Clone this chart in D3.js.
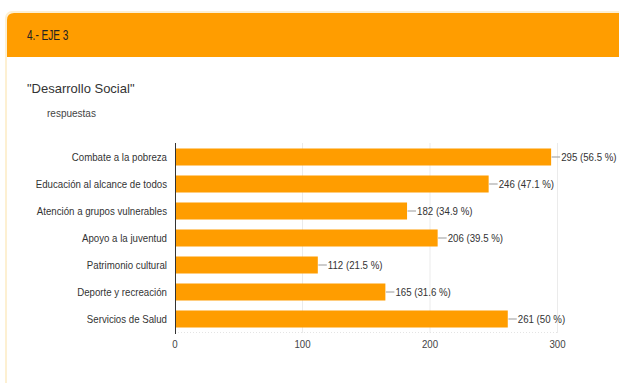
<!DOCTYPE html>
<html>
<head>
<meta charset="utf-8">
<script src="https://cdn.jsdelivr.net/npm/d3@7"></script>
<style>
  body { margin: 0; background: #fff; }
  svg { display: block; font-family: "Liberation Sans", Arial, sans-serif; }
</style>
</head>
<body>
<svg id="chart" width="619" height="383"></svg>
<script>
var categories = ["Combate a la pobreza", "Educación al alcance de todos", "Atención a grupos vulnerables",
  "Apoyo a la juventud", "Patrimonio cultural", "Deporte y recreación", "Servicios de Salud"];
var counts = [295, 246, 182, 206, 112, 165, 261];
var percents = ["56.5", "47.1", "34.9", "39.5", "21.5", "31.6", "50"];
var tickValues = [0, 100, 200, 300];

var squeeze = 0.88;

var svg = d3.select("#chart");

// card
svg.append("rect")
  .attr("x", 6).attr("y", 12).attr("width", 620).attr("height", 380)
  .attr("rx", 6)
  .attr("fill", "#fff").attr("stroke", "#fdf0d2").attr("stroke-width", 2);

svg.append("path")
  .attr("d", "M7,57 L7,20 Q7,13 14,13 L619,13 L619,57 Z")
  .attr("fill", "#ff9d00");

svg.append("text")
  .attr("transform", "translate(27,40) scale(0.72,1)")
  .attr("font-size", 14).attr("fill", "#222")
  .text("4.- EJE 3");

svg.append("text")
  .attr("x", 27).attr("y", 93)
  .attr("font-size", 13).attr("fill", "#333")
  .text("\"Desarrollo Social\"");

svg.append("text")
  .attr("x", 47).attr("y", 117)
  .attr("font-size", 10).attr("fill", "#444")
  .text("respuestas");

var x = d3.scaleLinear()
  .domain([0, 300])
  .range([175, 557.5]);

var y = d3.scaleBand()
  .domain(categories)
  .range([143.5, 332.5])
  .paddingInner(0.37)
  .paddingOuter(0.185);

function mid(i) { return y(categories[i]) + y.bandwidth() / 2; }

// grid
svg.selectAll(".grid")
  .data(tickValues.slice(1))
  .enter()
  .append("line")
  .attr("x1", function (d) { return x(d); })
  .attr("x2", function (d) { return x(d); })
  .attr("y1", 143).attr("y2", 333)
  .attr("stroke", "#ebebeb").attr("stroke-width", 1);

svg.append("line")
  .attr("x1", x(0)).attr("x2", x(300))
  .attr("y1", 332.5).attr("y2", 332.5)
  .attr("stroke", "#e4e4e4").attr("stroke-dasharray", "1,2");

// bars
svg.selectAll(".bar")
  .data(counts)
  .enter()
  .append("rect")
  .attr("x", x(0))
  .attr("y", function (d, i) { return y(categories[i]); })
  .attr("width", function (d) { return x(d) - x(0); })
  .attr("height", y.bandwidth())
  .attr("fill", "#ff9d00");

// axis line
svg.append("line")
  .attr("x1", 175.5).attr("x2", 175.5)
  .attr("y1", 143).attr("y2", 334)
  .attr("stroke", "#333").attr("stroke-width", 1);

// category labels
svg.selectAll(".cat")
  .data(categories)
  .enter()
  .append("text")
  .attr("transform", function (d, i) { return "translate(167," + mid(i) + ") scale(" + squeeze + ",1)"; })
  .attr("dy", "0.35em")
  .attr("text-anchor", "end")
  .attr("font-size", 11).attr("fill", "#333")
  .text(function (d) { return d; });

// value labels with leader lines
svg.selectAll(".leader")
  .data(counts)
  .enter()
  .append("line")
  .attr("x1", function (d) { return x(d) + 0.5; })
  .attr("x2", function (d) { return x(d) + 9; })
  .attr("y1", function (d, i) { return mid(i); })
  .attr("y2", function (d, i) { return mid(i); })
  .attr("stroke", "#aaa").attr("stroke-width", 1.2);

svg.selectAll(".val")
  .data(counts)
  .enter()
  .append("text")
  .attr("transform", function (d, i) { return "translate(" + (x(d) + 10) + "," + mid(i) + ") scale(" + squeeze + ",1)"; })
  .attr("dy", "0.35em")
  .attr("font-size", 11).attr("fill", "#333")
  .text(function (d, i) { return d + " (" + percents[i] + " %)"; });

// x tick labels
svg.selectAll(".tick")
  .data(tickValues)
  .enter()
  .append("text")
  .attr("transform", function (d) { return "translate(" + x(d) + ",348) scale(" + squeeze + ",1)"; })
  .attr("text-anchor", "middle")
  .attr("font-size", 11).attr("fill", "#444")
  .text(function (d) { return d; });
</script>
</body>
</html>
